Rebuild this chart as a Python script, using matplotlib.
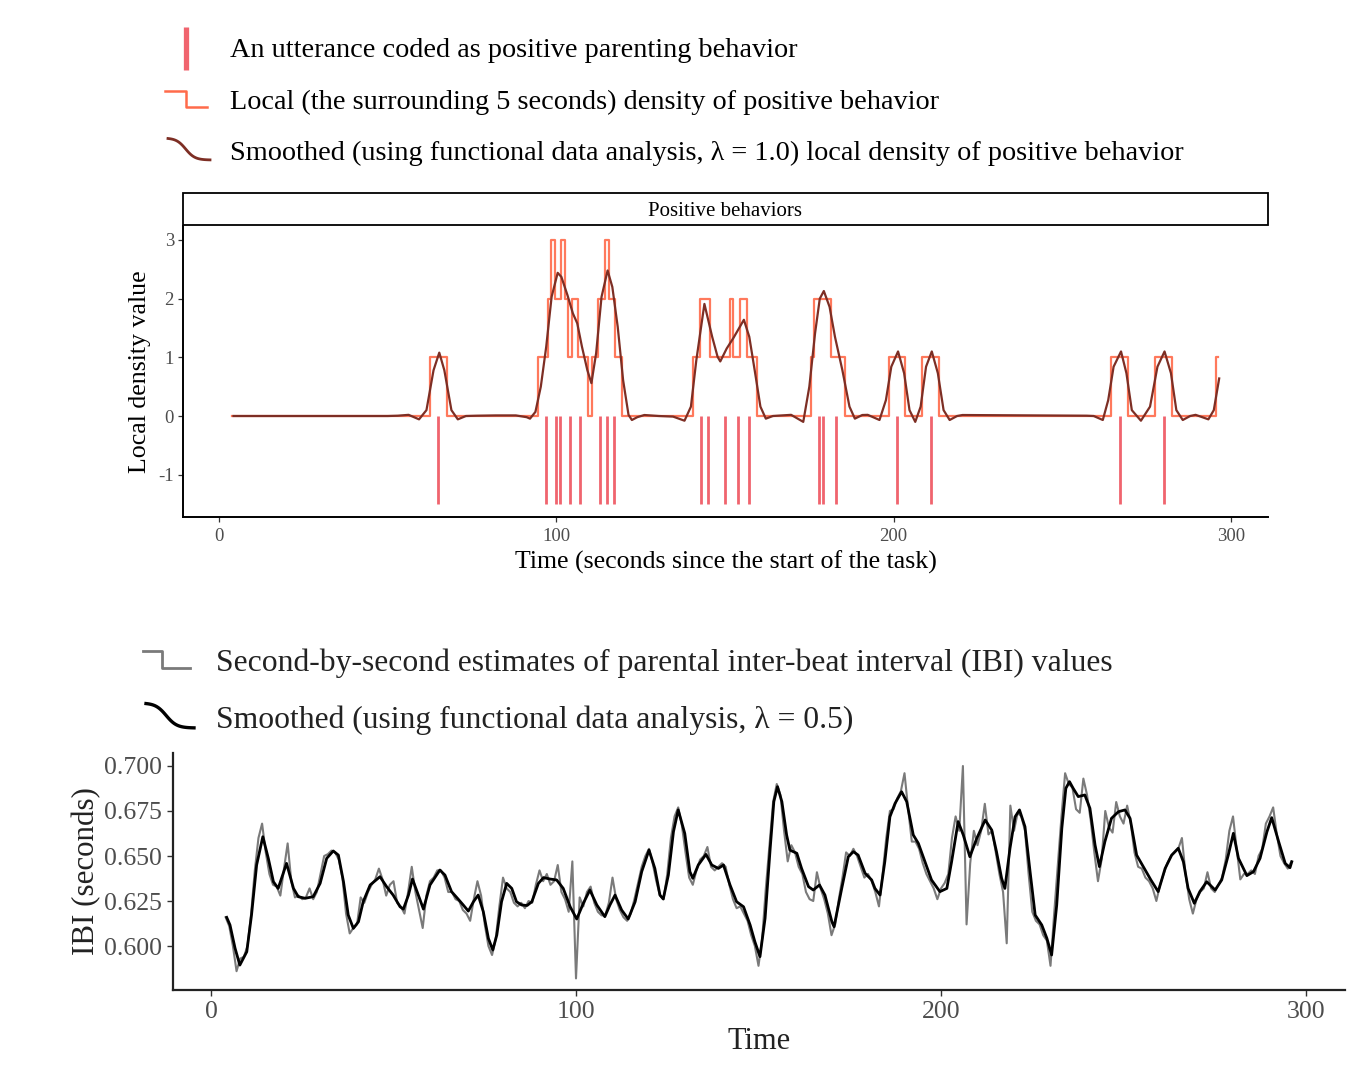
import numpy as np
import matplotlib
matplotlib.use("Agg")
import matplotlib.pyplot as plt
from matplotlib.patches import Rectangle

plt.rcParams['font.family'] = ['Liberation Serif', 'DejaVu Serif']

# ---------------- data: positive behaviors panel ----------------
utterance_times = [65, 97, 100, 101, 104, 107, 113, 115, 117, 143, 145, 150, 154,
                   157, 178, 179, 183, 201, 211, 267, 280]

density_start = 4
density_end = 296
# runs of the second-by-second local density (first second, last second, value); 0 elsewhere
density_runs = [(63, 67, 1), (95, 97, 1), (98, 98, 2), (99, 99, 3), (100, 101, 2),
                (102, 102, 3), (103, 103, 2), (104, 104, 1), (105, 106, 2),
                (107, 109, 1), (111, 112, 1), (113, 114, 2), (115, 115, 3),
                (116, 117, 2), (118, 119, 1), (141, 142, 1), (143, 145, 2),
                (146, 151, 1), (152, 152, 2), (153, 154, 1), (155, 156, 2),
                (157, 159, 1), (176, 176, 1), (177, 181, 2), (182, 185, 1),
                (199, 203, 1), (209, 213, 1), (265, 269, 1), (278, 282, 1),
                (296, 296, 1)]

dens_smooth_t = [4.3, 50, 53, 56.2, 59.3, 61.5, 63.6, 65.3, 66.8, 68.9, 70.8, 73.2, 76.4,
                 82, 88, 91.2, 92.2, 93.8, 95.4, 97.0, 98.6, 100.4, 101.5, 103.3, 104.9,
                 106.2, 107.6, 109.2, 110.4, 111.8, 113.4, 115.2, 116.6, 118.2, 119.8,
                 121.4, 122.4, 124.0, 126.1, 130.4, 134.6, 138.0, 139.9, 141.5, 143.9,
                 146.2, 147.8, 148.6, 150.5, 152.5, 155.6, 157.2, 158.8, 160.5, 162.1,
                 164.2, 169.6, 173.2, 175.0, 176.7, 178.1, 179.3, 181.0, 182.6, 184.8,
                 186.9, 188.5, 190.7, 192.3, 195.8, 197.7, 199.3, 201.3, 203.1, 204.7,
                 206.4, 208.0, 209.6, 211.3, 213.1, 214.8, 216.6, 218.8, 220.4, 257.2,
                 259.3, 262.0, 263.6, 265.2, 267.4, 269.0, 270.6, 273.3, 276.0, 278.2,
                 280.3, 282.2, 283.8, 285.7, 287.9, 289.5, 293.3, 294.9, 296.5]
dens_smooth_v = [0, 0, 0.005, 0.02, -0.057, 0.10, 0.78, 1.08, 0.78, 0.10, -0.057, 0, 0.005,
                 0.01, 0.01, -0.02, -0.045, 0.07, 0.50, 1.18, 2.03, 2.44, 2.37, 2.06, 1.75,
                 1.58, 1.18, 0.78, 0.56, 1.07, 2.03, 2.48, 2.20, 1.52, 0.61,
                 0.02, -0.068, -0.02, 0.017, 0, -0.01, -0.08, 0.16, 0.95, 1.91,
                 1.35, 1.01, 0.93, 1.15, 1.33, 1.64, 1.35, 0.78, 0.16, -0.045,
                 0, 0.02, -0.10, 0.50, 1.41, 2.0, 2.13, 1.86, 1.35, 0.78,
                 0.16, -0.045, 0.017, 0.02, -0.068, 0.27, 0.84, 1.10, 0.73, 0.10,
                 -0.10, 0.16, 0.84, 1.10, 0.73, 0.10, -0.068, 0, 0.017, 0.005,
                 0, -0.068, 0.27, 0.84, 1.10, 0.73, 0.10, -0.08, 0.16, 0.84,
                 1.10, 0.73, 0.10, -0.068, 0, 0.02, -0.057, 0.10, 0.64]

top_yticks = [-1, 0, 1, 2, 3]
top_xticks = [0, 100, 200, 300]

# ---------------- data: IBI panel ----------------
ibi_start = 4
ibi_raw = [0.616, 0.611, 0.600, 0.586, 0.593, 0.594, 0.600, 0.618, 0.642, 0.660,
           0.668, 0.652, 0.640, 0.634, 0.633, 0.628, 0.643, 0.657, 0.636, 0.627,
           0.628, 0.626, 0.627, 0.632, 0.626, 0.630, 0.640, 0.650, 0.651, 0.653,
           0.652, 0.648, 0.638, 0.618, 0.607, 0.610, 0.612, 0.627, 0.624, 0.630,
           0.634, 0.637, 0.643, 0.637, 0.628, 0.634, 0.636, 0.624, 0.622, 0.618,
           0.630, 0.644, 0.630, 0.620, 0.610, 0.628, 0.636, 0.638, 0.642, 0.642,
           0.638, 0.630, 0.630, 0.626, 0.625, 0.620, 0.618, 0.614, 0.626, 0.636,
           0.628, 0.612, 0.600, 0.595, 0.604, 0.622, 0.638, 0.632, 0.630, 0.624,
           0.622, 0.624, 0.621, 0.625, 0.624, 0.634, 0.642, 0.636, 0.640, 0.634,
           0.636, 0.645, 0.630, 0.626, 0.619, 0.647, 0.582, 0.627, 0.622, 0.630,
           0.633, 0.624, 0.619, 0.617, 0.617, 0.624, 0.638, 0.626, 0.620, 0.616,
           0.614, 0.618, 0.626, 0.635, 0.644, 0.650, 0.654, 0.646, 0.636, 0.628,
           0.626, 0.640, 0.660, 0.672, 0.677, 0.667, 0.652, 0.638, 0.634, 0.642,
           0.648, 0.650, 0.655, 0.644, 0.642, 0.644, 0.646, 0.644, 0.634, 0.626,
           0.621, 0.622, 0.618, 0.614, 0.606, 0.600, 0.589, 0.604, 0.632, 0.656,
           0.680, 0.690, 0.684, 0.664, 0.647, 0.656, 0.652, 0.644, 0.640, 0.630,
           0.626, 0.625, 0.641, 0.632, 0.626, 0.618, 0.606, 0.612, 0.626, 0.638,
           0.652, 0.650, 0.654, 0.650, 0.644, 0.638, 0.640, 0.636, 0.630, 0.622,
           0.640, 0.660, 0.675, 0.676, 0.682, 0.686, 0.696, 0.676, 0.658, 0.658,
           0.654, 0.646, 0.640, 0.636, 0.632, 0.626, 0.632, 0.635, 0.640, 0.660,
           0.672, 0.664, 0.700, 0.612, 0.646, 0.664, 0.656, 0.664, 0.679, 0.662,
           0.664, 0.652, 0.640, 0.630, 0.6015, 0.678, 0.664, 0.674, 0.672, 0.664,
           0.640, 0.619, 0.614, 0.612, 0.606, 0.603, 0.589, 0.618, 0.645, 0.672,
           0.696, 0.690, 0.688, 0.676, 0.674, 0.693, 0.684, 0.670, 0.652, 0.636,
           0.648, 0.675, 0.666, 0.663, 0.680, 0.672, 0.668, 0.678, 0.668, 0.652,
           0.644, 0.643, 0.638, 0.636, 0.632, 0.625, 0.634, 0.640, 0.646, 0.650,
           0.652, 0.654, 0.660, 0.640, 0.626, 0.618, 0.626, 0.630, 0.632, 0.641,
           0.632, 0.630, 0.634, 0.638, 0.648, 0.664, 0.672, 0.654, 0.637, 0.640,
           0.640, 0.642, 0.640, 0.650, 0.654, 0.668, 0.672, 0.677, 0.662, 0.650,
           0.646, 0.643, 0.647]

ibi_smooth_t = [4.3, 5.2, 6.6, 7.9, 9.8, 11.1, 12.5, 14.2, 15.7, 17.1, 18.4, 20.7, 22.6,
                23.9, 25.8, 28.0, 29.9, 31.7, 33.5, 34.9, 36.3, 37.6, 39.0, 40.4, 41.7,
                43.6, 46.3, 48.1, 49.9, 51.8, 52.7, 54.1, 55.2, 56.8, 58.2, 60.0, 62.7,
                64.1, 65.9, 67.7, 69.1, 70.5, 71.9, 73.2, 74.6, 76.0, 77.2, 78.3, 79.6,
                81.0, 82.4, 83.7, 85.1, 86.6, 87.9, 89.7, 91.1, 92.9, 94.7, 96.5, 98.4,
                100.2, 102.0, 103.8, 105.7, 107.9, 109.3, 110.7, 112.5, 114.3, 116.2,
                118.0, 120.0, 121.6, 123.0, 123.9, 125.3, 126.7, 128.0, 129.8, 131.2,
                132.0, 133.5, 135.6, 137.2, 139.0, 140.4, 142.2, 144.0, 145.9, 147.7,
                149.0, 150.4, 151.8, 153.2, 154.2, 155.2, 156.4, 157.7, 158.6, 160.5,
                161.8, 163.7, 165.0, 166.7, 168.2, 170.1, 170.7, 172.8, 174.6, 176.0,
                177.3, 179.2, 181.0, 181.9, 183.3, 184.6, 186.0, 187.4, 189.2, 190.6,
                192.4, 193.8, 195.6, 197.4, 199.7, 201.6, 202.9, 204.7, 206.1, 207.9,
                209.8, 212.1, 213.9, 215.2, 216.6, 217.5, 218.9, 220.3, 221.5, 223.0,
                224.4, 225.8, 227.6, 229.0, 230.3, 231.7, 233.1, 234.2, 235.2, 236.2,
                237.6, 239.4, 240.8, 242.2, 243.4, 244.9, 246.7, 248.6, 250.4, 251.8,
                253.6, 255.4, 257.5, 259.5, 261.4, 263.2, 265.0, 266.4, 267.7, 269.4,
                270.9, 272.8, 275.1, 276.9, 278.7, 280.1, 281.5, 283.8, 285.6, 287.4,
                289.3, 290.6, 292.5, 294.3, 295.6, 296.1]
ibi_smooth_v = [0.6159, 0.6117, 0.5987, 0.5894, 0.5968, 0.6172, 0.6450, 0.6607, 0.6487,
                0.6357, 0.6320, 0.6459, 0.6320, 0.6274, 0.6265, 0.6274, 0.6348, 0.6487,
                0.6528, 0.6505, 0.6357, 0.6172, 0.6098, 0.6135, 0.6246, 0.6339, 0.6385,
                0.6330, 0.6283, 0.6218, 0.6205, 0.6283, 0.6372, 0.6283, 0.6205, 0.6339,
                0.6422, 0.6394, 0.6302, 0.6261, 0.6228, 0.6194, 0.6246, 0.6283, 0.6191,
                0.6042, 0.5978, 0.6061, 0.6246, 0.6348, 0.6320, 0.6246, 0.6228, 0.6225,
                0.6246, 0.6348, 0.6380, 0.6372, 0.6367, 0.6320, 0.6218, 0.6150, 0.6237,
                0.6311, 0.6228, 0.6163, 0.6228, 0.6283, 0.6200, 0.6150, 0.6246, 0.6413,
                0.6533, 0.6431, 0.6283, 0.6261, 0.6394, 0.6635, 0.6756, 0.6625, 0.6413,
                0.6376, 0.6450, 0.6509, 0.6450, 0.6431, 0.6450, 0.6339, 0.6246, 0.6218,
                0.6117, 0.6024, 0.5941, 0.6154, 0.6543, 0.6802, 0.6885, 0.6802, 0.6617,
                0.6533, 0.6515, 0.6431, 0.6330, 0.6311, 0.6339, 0.6283, 0.6135, 0.6107,
                0.6320, 0.6496, 0.6524, 0.6505, 0.6404, 0.6367, 0.6320, 0.6283, 0.6468,
                0.6718, 0.6792, 0.6857, 0.6802, 0.6617, 0.6570, 0.6468, 0.6367, 0.6302,
                0.6320, 0.6468, 0.6691, 0.6617, 0.6496, 0.6598, 0.6700, 0.6644, 0.6524,
                0.6376, 0.6320, 0.6543, 0.6718, 0.6756, 0.6663, 0.6413, 0.6172, 0.6117,
                0.6043, 0.5950, 0.6228, 0.6654, 0.6876, 0.6913, 0.6876, 0.6830, 0.6839,
                0.6765, 0.6561, 0.6441, 0.6580, 0.6709, 0.6746, 0.6756, 0.6709, 0.6505,
                0.6441, 0.6367, 0.6302, 0.6431, 0.6505, 0.6543, 0.6468, 0.6320, 0.6237,
                0.6302, 0.6357, 0.6311, 0.6367, 0.6505, 0.6626, 0.6487, 0.6391, 0.6413,
                0.6487, 0.6635, 0.6713, 0.6580, 0.6459, 0.6435, 0.6468]

ibi_yticks = [0.600, 0.625, 0.650, 0.675, 0.700]
ibi_xticks = [0, 100, 200, 300]

# ---------------- styles ----------------
BAR_C = '#F0646E'
STEP_C = '#FF6B4A'
SMOOTH_C = '#7D2E24'
RAW_C = '#7a7a7a'
TICK_C = '#4D4D4D'

W, H = 1357, 1066
fig = plt.figure(figsize=(W / 100, H / 100), dpi=100)

# overlay in pixel coordinates for legends and the facet strip
ov = fig.add_axes([0, 0, 1, 1])
ov.set_xlim(0, W)
ov.set_ylim(H, 0)
ov.axis('off')
ov.patch.set_visible(False)

# ---- top legend ----
ov.plot([186, 186], [27, 70], color=BAR_C, lw=3.8, solid_capstyle='butt')
ov.plot([165, 186, 186, 207], [91, 91, 107, 107], color=STEP_C, lw=1.8)
s = np.linspace(0, 1, 40)
ov.plot(168 + 42 * s, 138 + 22 * (0.5 + 0.5 * np.tanh((s - 0.42) * 4.5)), color=SMOOTH_C, lw=2.0)
fs_leg1 = 20.3
ov.text(230, 50.5, 'An utterance coded as positive parenting behavior', fontsize=fs_leg1, va='center', ha='left')
ov.text(230, 102.5, 'Local (the surrounding 5 seconds) density of positive behavior', fontsize=fs_leg1, va='center', ha='left')
ov.text(230, 153.5, 'Smoothed (using functional data analysis, \u03bb = 1.0) local density of positive behavior',
        fontsize=fs_leg1, va='center', ha='left')

# ---- strip ----
ov.add_patch(Rectangle((183, 193), 1085, 32, facecolor='white', edgecolor='black', lw=1.3))
ov.text(725.5, 211.5, 'Positive behaviors', fontsize=15, ha='center', va='center')

# ---- bottom legend ----
ov.plot([143, 162, 162, 190], [651, 651, 668, 668], color=RAW_C, lw=2.0)
s2 = np.linspace(0, 1, 40)
ov.plot(146 + 48 * s2, 703 + 25 * (0.5 + 0.5 * np.tanh((s2 - 0.42) * 4.5)), color='black', lw=2.4)
fs_leg2 = 22.8
ov.text(216, 663.5, 'Second-by-second estimates of parental inter-beat interval (IBI) values',
        fontsize=fs_leg2, va='center', ha='left', color='#222222')
ov.text(216, 720.5, 'Smoothed (using functional data analysis, \u03bb = 0.5)',
        fontsize=fs_leg2, va='center', ha='left', color='#222222')

# ---------------- top panel ----------------
ax1 = fig.add_axes([183 / W, 1 - 517 / H, 1085 / W, 291 / H])
ax1.set_xlim(-10.67, 310.97)
ax1.set_ylim(-1.721, 3.238)

dens_t = np.arange(density_start, density_end + 1)
dens_v = np.zeros(len(dens_t))
for a, b, v in density_runs:
    dens_v[(dens_t >= a) & (dens_t <= b)] = v

ax1.vlines(utterance_times, -1.5, 0, color=BAR_C, lw=2.0, zorder=2)
ax1.plot(dens_t, dens_v, drawstyle='steps-mid', color=STEP_C, lw=1.6, alpha=0.9, zorder=3)
ax1.plot(dens_smooth_t, dens_smooth_v, color=SMOOTH_C, lw=1.6, zorder=4)

for sp in ['top', 'right']:
    ax1.spines[sp].set_visible(False)
for sp in ['left', 'bottom']:
    ax1.spines[sp].set_linewidth(1.4)
    ax1.spines[sp].set_color('black')
ax1.set_xticks(top_xticks)
ax1.set_yticks(top_yticks)
ax1.set_yticklabels([str(v) for v in top_yticks])
ax1.tick_params(axis='both', length=3.5, width=0.9, color='#333333', labelcolor=TICK_C,
                labelsize=13.5)
ax1.tick_params(axis='x', pad=4.5)
ax1.tick_params(axis='y', pad=3)
ax1.set_xlabel('Time (seconds since the start of the task)', fontsize=18.6, labelpad=4)
ax1.set_ylabel('Local density value', fontsize=18.6, labelpad=5)

# ---------------- IBI panel ----------------
ax2 = fig.add_axes([173 / W, 1 - 990 / H, (1345 - 173) / W, (990 - 753) / H])
ax2.set_xlim(-10.41, 310.68)
ax2.set_ylim(0.57556, 0.70722)
ibi_t = np.arange(ibi_start, ibi_start + len(ibi_raw))
ax2.plot(ibi_t, ibi_raw, color=RAW_C, lw=1.5, zorder=2)
ax2.plot(ibi_smooth_t, ibi_smooth_v, color='black', lw=2.0, zorder=3)
for sp in ['top', 'right']:
    ax2.spines[sp].set_visible(False)
for sp in ['left', 'bottom']:
    ax2.spines[sp].set_linewidth(1.6)
    ax2.spines[sp].set_color('#222222')
ax2.set_xticks(ibi_xticks)
ax2.set_yticks(ibi_yticks)
ax2.set_yticklabels(['%.3f' % v for v in ibi_yticks])
ax2.tick_params(axis='both', length=4, width=1.0, color='#333333', labelcolor=TICK_C,
                labelsize=18.5, pad=4)
ax2.set_xlabel('Time', fontsize=22, labelpad=3, color='#222222')
ax2.set_ylabel('IBI (seconds)', fontsize=22.3, labelpad=2, color='#222222')

fig.savefig('out.png', dpi=100, facecolor='white')
